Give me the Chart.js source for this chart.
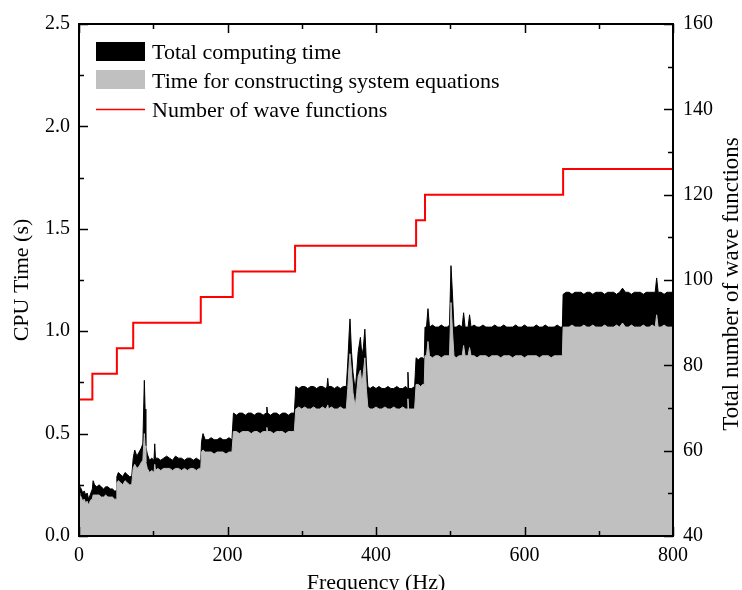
<!DOCTYPE html>
<html>
<head>
<meta charset="utf-8">
<script src="https://cdn.jsdelivr.net/npm/chart.js@4.4.1/dist/chart.umd.min.js"></script>
<style>
  html, body { margin: 0; padding: 0; background: #fff; }
  canvas { display: block; }
</style>
</head>
<body>
<canvas id="cpuChart" width="742" height="590"></canvas>
<script>
// Frequency samples (Hz)
const FREQ_HZ = [
  0, 1, 3, 5, 7, 9, 11, 13, 15, 17,
  18, 19, 21, 24, 27, 30, 33, 36, 39, 42, 45, 48, 50,
  51, 53, 56, 59, 62, 65, 68, 71,
  73, 75, 78, 81, 84, 86, 88, 89, 90, 92, 95, 98, 101, 102, 103,
  106, 110, 114, 118, 122, 126, 130, 134, 138, 142, 146, 150, 154, 158, 162, 164,
  165, 167, 170, 174, 178, 182, 186, 190, 194, 198, 202, 206,
  208, 212, 216, 220, 224, 228, 232, 236, 240, 244, 248, 252, 253, 254, 258, 262, 266, 270, 274, 278, 282, 286, 290,
  292, 296, 300, 304, 308, 312, 316, 320, 324, 328, 332, 334, 335, 336, 340, 344, 348, 352, 356, 360,
  362, 364, 365, 367, 369, 372, 374, 376, 379, 381, 383, 385, 387, 389, 392, 396, 400, 404, 408, 412,
  416, 420, 424, 428, 432, 436, 440, 442, 443, 444, 448, 452,
  454, 457, 460, 463, 465,
  466, 468, 470, 472, 476, 480, 484, 488, 492, 496, 499, 501, 503, 505, 508, 512, 516, 518, 520, 524,
  526, 528, 532, 536, 540, 544, 548, 552, 556, 560, 564, 568, 572, 576, 580, 584, 588, 592, 596, 600,
  604, 608, 612, 616, 620, 624, 628, 632, 636, 640, 644, 648, 651,
  652, 656, 660, 664, 668, 672, 676, 680, 684, 688, 692, 696, 700, 704, 708, 712, 716, 720, 724, 728,
  732, 736, 740, 744, 748, 752, 756, 760, 764, 768, 772, 776, 778, 780, 784, 788, 792, 796, 800
];

// Total computing time (s)
const TOTAL_TIME = [
  0.25, 0.24, 0.23, 0.21, 0.22, 0.20, 0.21, 0.18, 0.20, 0.22,
  0.23, 0.27, 0.25, 0.24, 0.25, 0.24, 0.23, 0.24, 0.24, 0.23, 0.23, 0.22, 0.22,
  0.29, 0.31, 0.30, 0.29, 0.31, 0.30, 0.29, 0.29,
  0.38, 0.42, 0.39, 0.41, 0.43, 0.45, 0.76, 0.62, 0.44, 0.40, 0.37, 0.38, 0.37, 0.45, 0.38,
  0.38, 0.37, 0.38, 0.39, 0.38, 0.37, 0.39, 0.38, 0.38, 0.37, 0.38, 0.38, 0.37, 0.38, 0.37, 0.37,
  0.46, 0.50, 0.47, 0.47, 0.48, 0.47, 0.47, 0.48, 0.47, 0.47, 0.48, 0.47,
  0.60, 0.59, 0.60, 0.60, 0.59, 0.60, 0.60, 0.59, 0.60, 0.60, 0.59, 0.60, 0.63, 0.60, 0.59, 0.60, 0.60, 0.59, 0.60, 0.60, 0.59, 0.60, 0.60,
  0.73, 0.72, 0.73, 0.73, 0.72, 0.73, 0.73, 0.72, 0.73, 0.73, 0.72, 0.73, 0.77, 0.73, 0.73, 0.72, 0.73, 0.72, 0.73, 0.73,
  0.85, 1.00, 1.06, 0.90, 0.80, 0.71, 0.80, 0.90, 0.97, 0.88, 0.92, 1.01, 0.85, 0.73, 0.72, 0.73, 0.72, 0.73, 0.72, 0.72,
  0.73, 0.72, 0.72, 0.73, 0.72, 0.72, 0.73, 0.72, 0.80, 0.72, 0.72, 0.73,
  0.87, 0.86, 0.87, 0.87, 0.86,
  1.02, 1.02, 1.11, 1.02, 1.03, 1.02, 1.02, 1.03, 1.02, 1.02, 1.03, 1.32, 1.18, 1.02, 1.02, 1.03, 1.02, 1.09, 1.02, 1.02,
  1.08, 1.02, 1.03, 1.02, 1.02, 1.03, 1.02, 1.02, 1.02, 1.03, 1.02, 1.02, 1.03, 1.02, 1.02, 1.02, 1.03, 1.02, 1.02, 1.03,
  1.02, 1.02, 1.02, 1.03, 1.02, 1.02, 1.03, 1.02, 1.02, 1.02, 1.03, 1.02, 1.02,
  1.18, 1.19, 1.19, 1.18, 1.19, 1.19, 1.19, 1.18, 1.19, 1.19, 1.18, 1.19, 1.19, 1.19, 1.18, 1.19, 1.19, 1.19, 1.18, 1.19,
  1.21, 1.19, 1.19, 1.18, 1.19, 1.19, 1.19, 1.18, 1.19, 1.19, 1.19, 1.19, 1.26, 1.19, 1.19, 1.18, 1.19, 1.19, 1.19
];

// Time for constructing system equations (s)
const SYSTEM_TIME = [
  0.21, 0.20, 0.19, 0.17, 0.18, 0.16, 0.17, 0.15, 0.17, 0.18,
  0.18, 0.20, 0.20, 0.20, 0.20, 0.19, 0.19, 0.20, 0.19, 0.19, 0.19, 0.18, 0.18,
  0.26, 0.27, 0.26, 0.25, 0.27, 0.26, 0.25, 0.25,
  0.33, 0.35, 0.33, 0.34, 0.36, 0.37, 0.50, 0.44, 0.36, 0.33, 0.31, 0.32, 0.31, 0.35, 0.32,
  0.33, 0.32, 0.33, 0.33, 0.33, 0.32, 0.33, 0.33, 0.32, 0.33, 0.32, 0.33, 0.33, 0.32, 0.33, 0.33,
  0.41, 0.42, 0.41, 0.41, 0.41, 0.40, 0.41, 0.41, 0.41, 0.40, 0.41, 0.41,
  0.51, 0.51, 0.50, 0.51, 0.51, 0.51, 0.50, 0.51, 0.51, 0.50, 0.51, 0.51, 0.53, 0.51, 0.51, 0.50, 0.51, 0.51, 0.51, 0.50, 0.51, 0.51, 0.51,
  0.62, 0.63, 0.62, 0.63, 0.62, 0.62, 0.63, 0.62, 0.62, 0.63, 0.62, 0.63, 0.64, 0.62, 0.63, 0.62, 0.62, 0.63, 0.62, 0.62,
  0.72, 0.85, 0.89, 0.80, 0.70, 0.63, 0.70, 0.78, 0.81, 0.74, 0.80, 0.87, 0.72, 0.63, 0.62, 0.62, 0.63, 0.62, 0.62, 0.63,
  0.62, 0.62, 0.63, 0.62, 0.62, 0.63, 0.62, 0.62, 0.67, 0.62, 0.62, 0.62,
  0.74, 0.74, 0.73, 0.74, 0.74,
  0.88, 0.88, 0.95, 0.88, 0.87, 0.88, 0.88, 0.87, 0.88, 0.88, 0.88, 1.14, 1.00, 0.88, 0.87, 0.88, 0.88, 0.93, 0.88, 0.88,
  0.92, 0.88, 0.88, 0.87, 0.88, 0.88, 0.88, 0.87, 0.88, 0.88, 0.88, 0.87, 0.88, 0.88, 0.88, 0.87, 0.88, 0.88, 0.88, 0.87,
  0.88, 0.88, 0.88, 0.88, 0.87, 0.88, 0.88, 0.88, 0.87, 0.88, 0.88, 0.88, 0.88,
  1.02, 1.02, 1.02, 1.03, 1.02, 1.02, 1.02, 1.03, 1.02, 1.02, 1.03, 1.02, 1.02, 1.02, 1.03, 1.02, 1.02, 1.02, 1.03, 1.02,
  1.04, 1.02, 1.02, 1.03, 1.02, 1.02, 1.02, 1.03, 1.02, 1.02, 1.03, 1.02, 1.08, 1.02, 1.02, 1.03, 1.02, 1.02, 1.02
];

// Number of wave functions (step line, right axis)
const WAVE_FREQ = [0, 18, 51, 73, 164, 207, 291, 454, 466, 652, 800];
const WAVE_COUNT = [72, 78, 84, 90, 96, 102, 108, 114, 120, 126, 126];

// Ticks
const X_TICKS = [0, 200, 400, 600, 800];
const X_MINOR = [100, 300, 500, 700];
const Y_TICKS = [0, 0.5, 1.0, 1.5, 2.0, 2.5];
const Y_MINOR = [0.25, 0.75, 1.25, 1.75, 2.25];
const Y2_TICKS = [40, 60, 80, 100, 120, 140, 160];
const Y2_MINOR = [50, 70, 90, 110, 130, 150];

const LABELS = {
  total: 'Total computing time',
  system: 'Time for constructing system equations',
  wave: 'Number of wave functions',
  x: 'Frequency (Hz)',
  y: 'CPU Time (s)',
  y2: 'Total number of wave functions'
};

const FONT_FAMILY = "'Liberation Serif', 'Times New Roman', serif";
const GRAY = '#c0c0c0';

// inward ticks on all four sides + frame
const frameTicksPlugin = {
  id: 'frameTicks',
  afterDatasetsDraw(chart) {
    const { ctx, chartArea: a, scales } = chart;
    const MAJOR = 9, MINOR = 5;
    ctx.save();
    ctx.strokeStyle = '#000';
    ctx.lineWidth = 1.5;
    ctx.beginPath();
    X_TICKS.concat(X_MINOR).forEach(v => {
      const len = X_TICKS.includes(v) ? MAJOR : MINOR;
      const px = Math.round(scales.x.getPixelForValue(v)) + 0.5;
      ctx.moveTo(px, a.bottom); ctx.lineTo(px, a.bottom - len);
      ctx.moveTo(px, a.top); ctx.lineTo(px, a.top + len);
    });
    Y_TICKS.concat(Y_MINOR).forEach(v => {
      const len = Y_TICKS.includes(v) ? MAJOR : MINOR;
      const py = Math.round(scales.y.getPixelForValue(v)) + 0.5;
      ctx.moveTo(a.left, py); ctx.lineTo(a.left + len, py);
    });
    Y2_TICKS.concat(Y2_MINOR).forEach(v => {
      const len = Y2_TICKS.includes(v) ? MAJOR : MINOR;
      const py = Math.round(scales.y2.getPixelForValue(v)) + 0.5;
      ctx.moveTo(a.right, py); ctx.lineTo(a.right - len, py);
    });
    ctx.stroke();
    ctx.lineWidth = 2;
    ctx.strokeRect(a.left, a.top, a.right - a.left, a.bottom - a.top);
    ctx.restore();
  }
};

// legend inside the plot + axis titles
const legendTitlesPlugin = {
  id: 'legendTitles',
  afterDraw(chart) {
    const { ctx, chartArea: a } = chart;
    ctx.save();
    const bx = a.left + 17, bw = 49, tx = a.left + 73;
    ctx.fillStyle = '#000';
    ctx.fillRect(bx, 42, bw, 19);
    ctx.fillStyle = GRAY;
    ctx.fillRect(bx, 70, bw, 19);
    ctx.strokeStyle = '#ff0000';
    ctx.lineWidth = 1.5;
    ctx.beginPath();
    ctx.moveTo(bx, 109.5); ctx.lineTo(bx + bw, 109.5);
    ctx.stroke();

    ctx.fillStyle = '#000';
    ctx.font = '22px ' + FONT_FAMILY;
    ctx.textBaseline = 'alphabetic';
    ctx.textAlign = 'left';
    ctx.fillText(LABELS.total, tx, 59);
    ctx.fillText(LABELS.system, tx, 88);
    ctx.fillText(LABELS.wave, tx, 117);

    // axis titles
    ctx.textAlign = 'center';
    ctx.textBaseline = 'middle';
    ctx.fillText(LABELS.x, (a.left + a.right) / 2, 583);
    const cy = (a.top + a.bottom) / 2;
    ctx.save();
    ctx.translate(22, cy);
    ctx.rotate(-Math.PI / 2);
    ctx.fillText(LABELS.y, 0, 0);
    ctx.restore();
    ctx.save();
    ctx.font = '23px ' + FONT_FAMILY;
    ctx.translate(732, cy + 4);
    ctx.rotate(-Math.PI / 2);
    ctx.fillText(LABELS.y2, 0, 0);
    ctx.restore();
    ctx.restore();
  }
};

function initializeChart() {
  const ctx = document.getElementById('cpuChart');
  const totalPoints = FREQ_HZ.map((f, i) => ({ x: f, y: TOTAL_TIME[i] }));
  const systemPoints = FREQ_HZ.map((f, i) => ({ x: f, y: SYSTEM_TIME[i] }));
  const wavePoints = WAVE_FREQ.map((f, i) => ({ x: f, y: WAVE_COUNT[i] }));
  const tickFont = { family: FONT_FAMILY, size: 20 };

  new Chart(ctx, {
    type: 'line',
    data: {
      datasets: [
        {
          label: LABELS.total,
          data: totalPoints,
          yAxisID: 'y',
          borderColor: '#000',
          backgroundColor: '#000',
          borderWidth: 1,
          pointRadius: 0,
          fill: 'origin',
          order: 2
        },
        {
          label: LABELS.system,
          data: systemPoints,
          yAxisID: 'y',
          borderColor: GRAY,
          backgroundColor: GRAY,
          borderWidth: 1,
          pointRadius: 0,
          fill: 'origin',
          order: 1
        },
        {
          label: LABELS.wave,
          data: wavePoints,
          yAxisID: 'y2',
          borderColor: '#ff0000',
          borderWidth: 2,
          pointRadius: 0,
          stepped: true,
          fill: false,
          order: 0
        }
      ]
    },
    options: {
      responsive: false,
      animation: false,
      devicePixelRatio: 1,
      layout: { padding: { top: 24, left: 0, right: 0, bottom: 0 } },
      plugins: { legend: { display: false }, tooltip: { enabled: false } },
      scales: {
        x: {
          type: 'linear',
          min: 0, max: 800,
          afterBuildTicks: s => { s.ticks = X_TICKS.map(v => ({ value: v })); },
          afterFit: s => { s.height = 54; },
          grid: { display: false, drawTicks: false },
          border: { display: false },
          ticks: { font: tickFont, color: '#000', padding: 8, maxRotation: 0 }
        },
        y: {
          position: 'left',
          min: 0, max: 2.5,
          afterBuildTicks: s => { s.ticks = Y_TICKS.map(v => ({ value: v })); },
          afterFit: s => { s.width = 79; },
          grid: { display: false, drawTicks: false },
          border: { display: false },
          ticks: { font: tickFont, color: '#000', padding: 9, callback: v => v.toFixed(1) }
        },
        y2: {
          position: 'right',
          min: 40, max: 160,
          afterBuildTicks: s => { s.ticks = Y2_TICKS.map(v => ({ value: v })); },
          afterFit: s => { s.width = 69; },
          grid: { display: false, drawTicks: false },
          border: { display: false },
          ticks: { font: tickFont, color: '#000', padding: 10 }
        }
      }
    },
    plugins: [frameTicksPlugin, legendTitlesPlugin]
  });
}

window.onload = initializeChart;
</script>
</body>
</html>
